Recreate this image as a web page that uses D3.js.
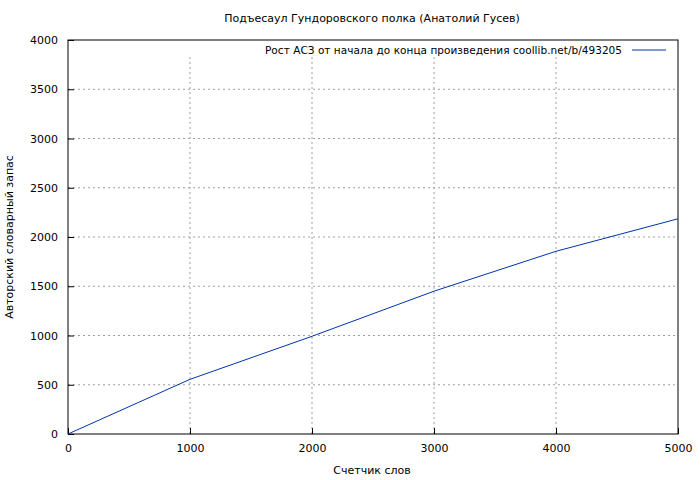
<!DOCTYPE html>
<html>
<head>
<meta charset="utf-8">
<script src="https://d3js.org/d3.v7.min.js"></script>
<style>
body { margin: 0; background: #fff; }
text { font-family: "DejaVu Sans", sans-serif; font-size: 11px; fill: #000; }
</style>
</head>
<body>
<svg width="700" height="480"></svg>
<script>
var words = [0, 1000, 2000, 3000, 4000, 5000];
var vocab = [0, 555, 992, 1450, 1855, 2185];
var xTicks = [0, 1000, 2000, 3000, 4000, 5000];
var yTicks = [0, 500, 1000, 1500, 2000, 2500, 3000, 3500, 4000];

var svg = d3.select("svg"),
    margin = {top: 40, right: 22, bottom: 46, left: 68},
    width = 700 - margin.left - margin.right,
    height = 480 - margin.top - margin.bottom;

var x = d3.scaleLinear().domain([0, 5000]).range([0, width]),
    y = d3.scaleLinear().domain([0, 4000]).range([height, 0]);

var g = svg.append("g")
    .attr("transform", "translate(" + margin.left + "," + margin.top + ")");

// grid
g.selectAll(".gx").data(xTicks.slice(1, -1)).enter().append("line")
    .attr("x1", d => x(d)).attr("x2", d => x(d))
    .attr("y1", 17).attr("y2", height)
    .attr("stroke", "#a0a0a0").attr("stroke-dasharray", "2,3");
g.selectAll(".gy").data(yTicks.slice(1, -1)).enter().append("line")
    .attr("x1", 0).attr("x2", width)
    .attr("y1", d => y(d)).attr("y2", d => y(d))
    .attr("stroke", "#a0a0a0").attr("stroke-dasharray", "2,3");

// axes
g.append("g").attr("transform", "translate(0," + height + ")")
    .call(d3.axisBottom(x).tickValues(xTicks).tickSize(-6).tickPadding(10).tickFormat(d3.format("d")))
    .call(a => a.select(".domain").remove());
g.append("g")
    .call(d3.axisLeft(y).tickValues(yTicks).tickSize(-6).tickPadding(10).tickFormat(d3.format("d")))
    .call(a => a.select(".domain").remove());
g.selectAll(".tick text").style("font-size", "11px").style("font-family", "DejaVu Sans");

g.append("rect").attr("width", width).attr("height", height)
    .attr("fill", "none").attr("stroke", "#000");

// line
var pts = words.map((w, i) => [w, vocab[i]]);
g.append("path").datum(pts)
    .attr("fill", "none").attr("stroke", "#0033aa").attr("stroke-width", 1)
    .attr("d", d3.line().x(d => x(d[0])).y(d => y(d[1])));

// legend
g.append("text").attr("x", width - 56).attr("y", 14).attr("text-anchor", "end")
    .style("font-size", "10.5px").attr("textLength", 357)
    .text("Рост АСЗ от начала до конца произведения coollib.net/b/493205");
g.append("line").attr("x1", width - 46).attr("x2", width - 12)
    .attr("y1", 10).attr("y2", 10).attr("stroke", "#0033aa");

// titles
svg.append("text").attr("x", 372).attr("y", 22).attr("text-anchor", "middle")
    .text("Подъесаул Гундоровского полка (Анатолий Гусев)");
svg.append("text").attr("x", 372).attr("y", 474).attr("text-anchor", "middle")
    .text("Счетчик слов");
svg.append("text").attr("transform", "translate(13," + (margin.top + height / 2) + ") rotate(-90)")
    .attr("text-anchor", "middle").text("Авторский словарный запас");
</script>
</body>
</html>
